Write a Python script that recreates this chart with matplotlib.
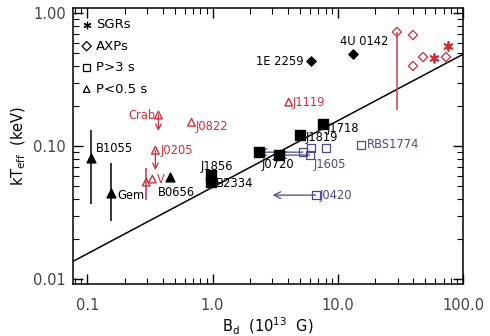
import matplotlib.pyplot as plt
import numpy as np

RED = '#c8303c'
PINK = '#c84050'
BLUE = '#4a4a88'

# thermally emitting pulsars, kT in keV, dipole field in 10^13 G
# short period (P < 0.5 s), black filled triangles
fast_names = ['B1055', 'Gem', 'B0656']
fast_B = [0.108, 0.156, 0.461]
fast_kT = [0.081, 0.0443, 0.0585]
fast_kT_lo = [0.037, 0.0273, 0.0585]
fast_kT_hi = [0.132, 0.0745, 0.0585]

# short period, red open triangles (upper limits / ranges)
red_tri_names = ['Crab', 'J0822', 'J0205', '', 'V', 'J1119']
red_tri_B = [0.37, 0.68, 0.35, 0.296, 0.331, 4.06]
red_tri_kT = [0.171, 0.151, 0.093, 0.0536, 0.0565, 0.214]
upper_limit_B = [0.37, 0.35]
upper_limit_kT = [0.171, 0.093]
upper_limit_to = [0.130, 0.066]
vela_err_B = [0.296]
vela_err_lo = [0.039]
vela_err_hi = [0.068]

# long period (P > 3 s), black filled squares
slow_names = ['J1856', 'B2334', 'J0720', '', 'J1819', 'J1718']
slow_B = [0.98, 0.98, 2.33, 3.37, 4.97, 7.59]
slow_kT = [0.0605, 0.0536, 0.090, 0.0856, 0.121, 0.146]

# long period, blue open squares (XDINS)
xdins_B = [5.25, 5.97, 6.08, 8.0, 15.3, 6.67]
xdins_kT = [0.090, 0.0856, 0.0966, 0.0966, 0.102, 0.0428]
# field drops marked with arrows: start B, end B, kT
arrow_B0 = [5.25, 5.97, 6.67]
arrow_B1 = [2.33, 3.37, 3.02]
arrow_kT = [0.090, 0.0856, 0.0428]

# magnetars
axp_black_names = ['1E 2259', '4U 0142']
axp_black_B = [6.08, 13.2]
axp_black_kT = [0.436, 0.492]
axp_red_B = [29.6, 39.8, 39.8, 47.9, 73.1]
axp_red_kT = [0.72, 0.683, 0.40, 0.467, 0.467]
axp_range_B = [29.6]
axp_range_lo = [0.187]
axp_range_hi = [0.72]
sgr_B = [58.6, 75.9]
sgr_kT = [0.459, 0.565]

# kT ~ B^0.5 scaling
line_B = np.array([0.077, 100.0])
line_norm = 0.049

fig = plt.figure(figsize=(4.9, 3.36), dpi=100)
ax = fig.add_axes([0.149, 0.155, 0.796, 0.821])
ax.set_xscale('log')
ax.set_yscale('log')
ax.set_xlim(0.077, 100)
ax.set_ylim(0.0092, 1.09)

ax.plot(line_B, line_norm * np.sqrt(line_B), color='k', lw=1.1, zorder=2)

ax.vlines(fast_B[:2], fast_kT_lo[:2], fast_kT_hi[:2], color='k', lw=1.1)
ax.scatter(fast_B, fast_kT, marker='^', s=40, color='k', zorder=4)

ax.vlines(vela_err_B, vela_err_lo, vela_err_hi, color=RED, lw=1.1)
ax.vlines(axp_range_B, axp_range_lo, axp_range_hi, color=PINK, lw=1.1)
for b, k0, k1 in zip(upper_limit_B, upper_limit_kT, upper_limit_to):
    ax.annotate('', xy=(b, k1), xytext=(b, k0),
                arrowprops=dict(arrowstyle='->', color=RED, lw=0.9,
                                shrinkA=0, shrinkB=0, mutation_scale=10))
ax.scatter(red_tri_B, red_tri_kT, marker='^', s=30, facecolor='none',
           edgecolor=RED, linewidth=1.0, zorder=4)

for b0, b1, k in zip(arrow_B0, arrow_B1, arrow_kT):
    ax.annotate('', xy=(b1, k), xytext=(b0, k),
                arrowprops=dict(arrowstyle='->', color=BLUE, lw=0.9,
                                shrinkA=0, shrinkB=0, mutation_scale=12))
ax.scatter(slow_B, slow_kT, marker='s', s=60, color='k', zorder=4)
ax.scatter(xdins_B, xdins_kT, marker='s', s=32, facecolor='none',
           edgecolor=BLUE, linewidth=0.9, zorder=4)

ax.scatter(axp_black_B, axp_black_kT, marker='D', s=22, color='k', zorder=4)
ax.scatter(axp_red_B, axp_red_kT, marker='D', s=22, facecolor='none',
           edgecolor=PINK, linewidth=1.0, zorder=4)
ax.scatter(sgr_B, sgr_kT, marker=(6, 2, 0), s=40, color=RED,
           linewidth=1.3, zorder=4)

# source labels, offsets in points
def label(name, b, k, dx, dy, color, size=8.3, ha='left'):
    if name:
        ax.annotate(name, (b, k), xytext=(dx, dy), textcoords='offset points',
                    color=color, fontsize=size, ha=ha, va='center')

label('B1055', fast_B[0], fast_kT[0], 3, 7, 'k')
label('Gem', fast_B[1], fast_kT[1], 4, -2, 'k')
label('B0656', fast_B[2], fast_kT[2], -9, -11, 'k')

label('Crab', red_tri_B[0], red_tri_kT[0], -2, 0, RED, ha='right')
label('J0822', red_tri_B[1], red_tri_kT[1], 3, -3, RED)
label('J0205', red_tri_B[2], red_tri_kT[2], 4, 0, RED)
label('V', red_tri_B[4], red_tri_kT[4], 3, 0, RED)
label('J1119', red_tri_B[5], red_tri_kT[5], 3, 0, RED)

label('J1856', slow_B[0], slow_kT[0], -8, 6, 'k')
label('B2334', slow_B[1], slow_kT[1], 3, -1, 'k')
label('J0720', slow_B[3], slow_kT[3], -12, -7, 'k')
label('J1819', slow_B[4], slow_kT[4], 4, -2, 'k')
label('J1718', slow_B[5], slow_kT[5], 3, -3, 'k')

label('J1605', xdins_B[1], xdins_kT[1], 3, -7, BLUE)
label('RBS1774', xdins_B[4], xdins_kT[4], 4, 0, BLUE)
label('J0420', xdins_B[5], xdins_kT[5], 3, 0, BLUE)

label('1E 2259', axp_black_B[0], axp_black_kT[0], -5, 0, 'k', ha='right')
label('4U 0142', axp_black_B[1], axp_black_kT[1], -9, 9, 'k')

# legend drawn by hand in the upper left corner
legend_marks = [(6, 2, 0), 'D', 's', '^']
legend_text = ['SGRs', 'AXPs', 'P>3 s', 'P<0.5 s']
for i, (m, t) in enumerate(zip(legend_marks, legend_text)):
    y = 0.94 - i * 0.078
    ax.scatter([0.035], [y], transform=ax.transAxes, marker=m,
               s=22 if m != 's' else 30, facecolor='none' if m != (6, 2, 0) else 'k',
               edgecolor='k', linewidth=0.9, clip_on=False)
    ax.text(0.058, y, t, transform=ax.transAxes, fontsize=9.5, va='center')

ax.set_xticks([0.1, 1, 10, 100])
ax.set_xticklabels(['0.1', '1.0', '10.0', '100.0'])
ax.set_yticks([0.01, 0.1, 1])
ax.set_yticklabels(['0.01', '0.10', '1.00'])
ax.tick_params(which='both', direction='in', top=True, right=True,
               labelsize=10.5, labelcolor='#444444')
ax.tick_params(which='major', length=7, width=1)
ax.tick_params(which='minor', length=4, width=0.8)
for s in ax.spines.values():
    s.set_linewidth(1.1)
ax.tick_params(axis='x', pad=10)
ax.tick_params(axis='y', pad=5)

ax.set_xlabel(r'B$_{\rm d}$  (10$^{13}$  G)', fontsize=10.5, labelpad=2)
ax.set_ylabel(r'kT$_{\rm eff}$  (keV)', fontsize=10.5, labelpad=4)

fig.savefig('out.png', dpi=100)
